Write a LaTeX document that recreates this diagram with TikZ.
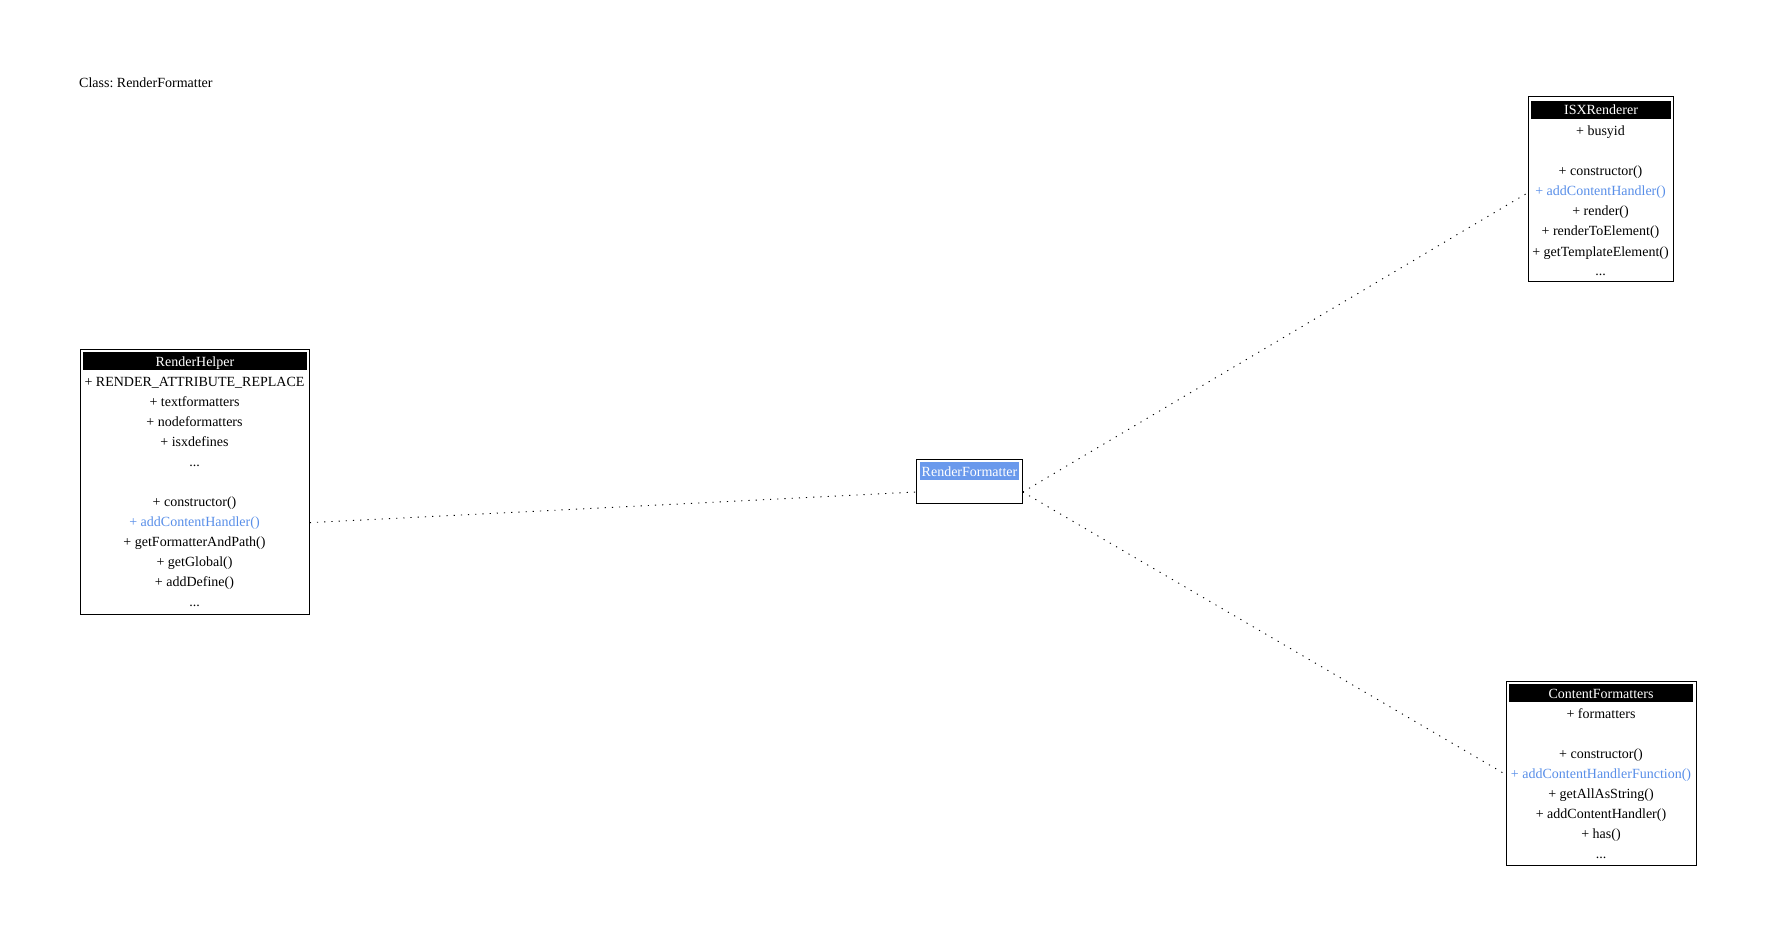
\documentclass[tikz,border=0pt]{standalone}
\usepackage{fontspec}
\setmainfont{Liberation Serif}
\frenchspacing

\definecolor{methodblue}{RGB}{88,142,232}
\definecolor{headblue}{RGB}{106,153,236}

\tikzset{
  classbox/.style={draw, line width=0.8pt, inner sep=0, anchor=north west},
  classhead/.style={fill=black, text=white, inner sep=0, minimum height=18,
    text height=10, text depth=0},
  member/.style={inner sep=0, anchor=base},
  usedby/.style={line width=0.9pt, dash pattern=on 1.2pt off 6pt}
}

\begin{document}
\begin{tikzpicture}[x=1pt,y=-1pt,font=\fontsize{14}{16}\selectfont]

\useasboundingbox (0,0) rectangle (1776,941);

\node[member, anchor=base west] (title) at (79,88) {Class: RenderFormatter};

% RenderHelper
\node[classbox, minimum width=229, minimum height=265] (helper) at (80,349) {};
\node[classhead, minimum width=224] (helper-head) at (195,361) {RenderHelper};
\foreach \y/\t [count=\i] in {386/{+ RENDER\_ATTRIBUTE\_REPLACE}, 406/{+ textformatters},
    426/{+ nodeformatters}, 446/{+ isxdefines}, 466/{...}, 506/{+ constructor()},
    546/{+ getFormatterAndPath()}, 566/{+ getGlobal()}, 586/{+ addDefine()}, 606/{...}}
  \node[member] (helper-\i) at (194.5,\y) {\t};
\node[member, text=methodblue] (helper-add) at (194.5,526) {+ addContentHandler()};

% RenderFormatter
\node[classbox, minimum width=106, minimum height=44] (formatter) at (916,459) {};
\node[classhead, fill=headblue, minimum width=99] (formatter-head) at (969.5,471) {RenderFormatter};
\coordinate (formatter-body) at (969,492);

% ISXRenderer
\node[classbox, minimum width=145, minimum height=185] (isx) at (1528,96) {};
\node[classhead, minimum width=140] (isx-head) at (1601,110) {ISXRenderer};
\foreach \y/\t [count=\i] in {136/{+ busyid}, 176/{+ constructor()}, 216/{+ render()},
    236/{+ renderToElement()}, 256/{+ getTemplateElement()}, 276/{...}}
  \node[member] (isx-\i) at (1600.5,\y) {\t};
\node[member, text=methodblue] (isx-add) at (1600.5,196) {+ addContentHandler()};

% ContentFormatters
\node[classbox, minimum width=190, minimum height=184] (content) at (1506,681) {};
\node[classhead, minimum width=184] (content-head) at (1601,693) {ContentFormatters};
\foreach \y/\t [count=\i] in {718/{+ formatters}, 758/{+ constructor()}, 798/{+ getAllAsString()},
    818/{+ addContentHandler()}, 838/{+ has()}, 858/{...}}
  \node[member] (content-\i) at (1601,\y) {\t};
\node[member, text=methodblue] (content-add) at (1601,778) {+ addContentHandlerFunction()};

% usages
\draw[usedby] (helper.east |- helper-add) -- (formatter.west |- formatter-body);
\draw[usedby] (formatter.east |- formatter-body) -- (isx.west |- isx-add);
\draw[usedby] (formatter.east |- formatter-body) -- (content.west |- content-add);

\end{tikzpicture}
\end{document}
